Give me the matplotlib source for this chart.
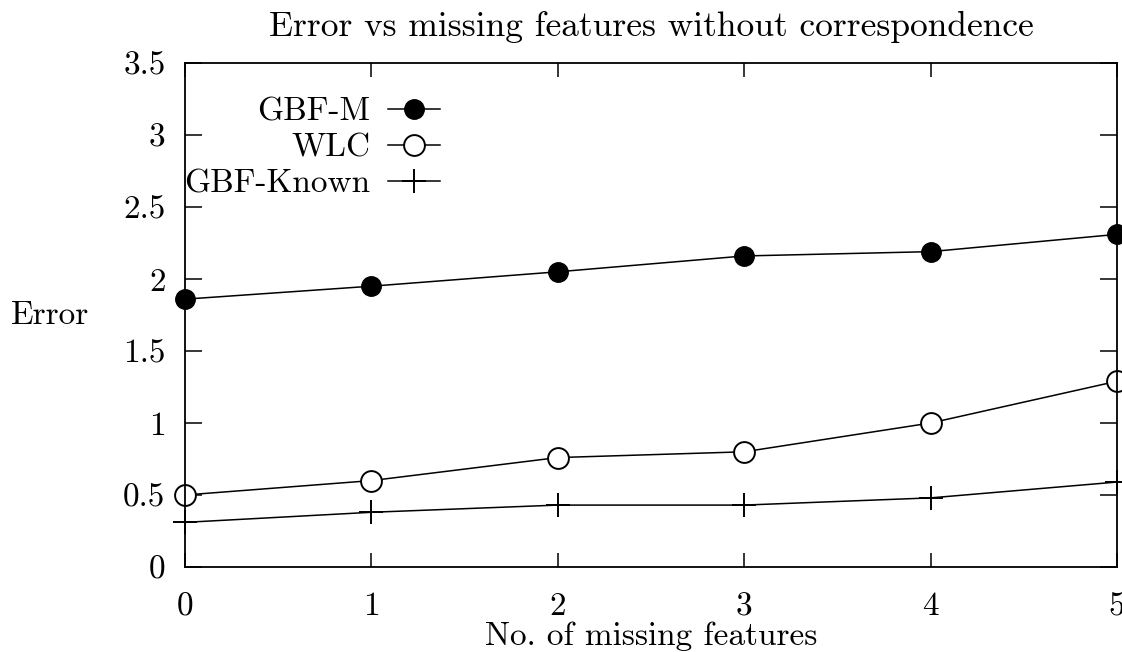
import matplotlib
matplotlib.use("Agg")
import matplotlib.pyplot as plt

missing = [0, 1, 2, 3, 4, 5]
gbf_m = [1.86, 1.95, 2.05, 2.16, 2.19, 2.31]
wlc = [0.50, 0.60, 0.76, 0.80, 1.00, 1.29]
gbf_known = [0.31, 0.38, 0.43, 0.43, 0.48, 0.59]
xticks = [0, 1, 2, 3, 4, 5]
yticks = [0, 0.5, 1, 1.5, 2, 2.5, 3, 3.5]
yticklabels = ["0", "0.5", "1", "1.5", "2", "2.5", "3", "3.5"]

plt.rcParams['font.family'] = ['cmr10', 'DejaVu Serif']
plt.rcParams['axes.formatter.use_mathtext'] = True
FS = 24
FT = 25.5

fig = plt.figure(figsize=(11.22, 6.52), dpi=100)
ax = fig.add_axes([185/1122, 1 - 567/652, (1117-185)/1122, (567-63)/652])

lw = 1.1
ax.plot(missing, gbf_m, color='black', lw=lw, marker='o', markersize=14,
        markerfacecolor='black', markeredgecolor='black', clip_on=False, label='GBF-M')
ax.plot(missing, wlc, color='black', lw=lw, marker='o', markersize=15,
        markerfacecolor='white', markeredgecolor='black', markeredgewidth=1.4,
        clip_on=False, label='WLC')
ax.plot(missing, gbf_known, color='black', lw=lw, marker='+', markersize=17,
        markeredgewidth=1.4, clip_on=False, label='GBF-Known')

ax.set_xlim(0, 5)
ax.set_ylim(0, 3.5)
ax.set_xticks(xticks)
ax.set_xticklabels([str(v) for v in xticks])
ax.set_yticks(yticks)
ax.set_yticklabels(yticklabels)

ax.tick_params(axis='both', direction='in', labelsize=FS, width=1.1, colors='black')
ax.tick_params(axis='y', length=12, pad=14, left=True, right=True)
ax.tick_params(axis='x', length=10, pad=18, bottom=True, top=True)
for s in ax.spines.values():
    s.set_linewidth(1.3)
    s.set_color('black')

ax.set_title("Error vs missing features without correspondence", fontsize=FT,
             y=(567-35)/504, va='center')
ax.set_xlabel("No. of missing features", fontsize=FS, va='center')
ax.xaxis.set_label_coords(0.5, (567-636)/504)
ax.set_ylabel("Error", fontsize=FS, rotation=0, ha='center', va='center')
ax.yaxis.set_label_coords((50-185)/932, 0.5)

leg = ax.legend(loc='upper right', bbox_to_anchor=((440-185)/932, (567-97)/504),
                markerfirst=False, frameon=False, fontsize=FS, borderpad=0,
                borderaxespad=0, labelspacing=0.2, handlelength=1.55,
                handletextpad=0.55, numpoints=1)

fig.savefig("out.png", dpi=100)
